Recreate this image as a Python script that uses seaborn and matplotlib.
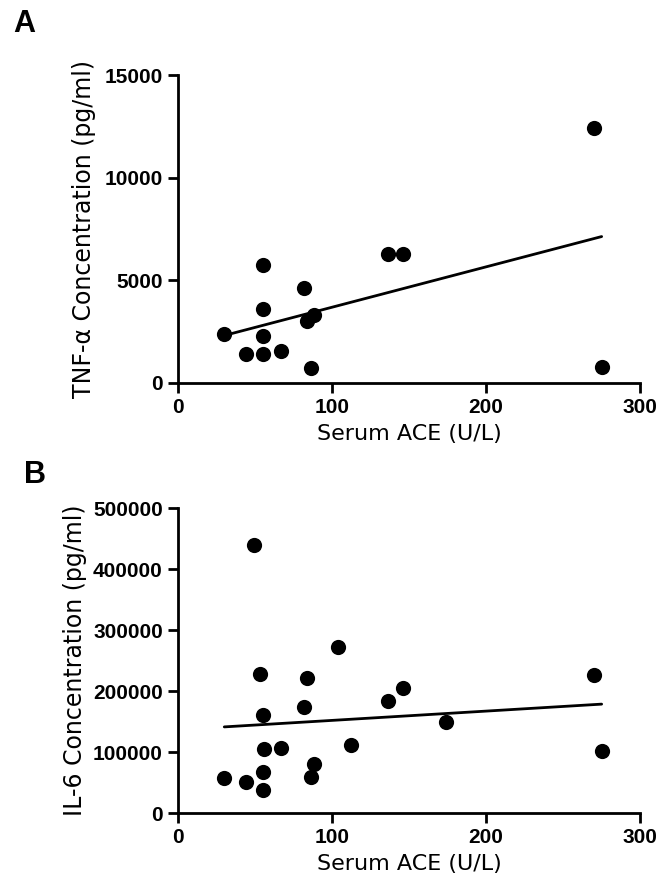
import numpy as np
import matplotlib
matplotlib.use("Agg")
import matplotlib.pyplot as plt
import seaborn as sns

# Panel A: serum ACE vs TNF-alpha
ace_a = [30, 44, 55, 55, 55, 55, 67, 82, 84, 88, 86, 136, 146, 270, 275]
tnf = [2400, 1400, 1400, 2300, 3600, 5750, 1550, 4650, 3000, 3300, 750, 6300, 6300, 12400, 800]

# Panel B: serum ACE vs IL-6
ace_b = [30, 44, 49, 53, 55, 56, 55, 55, 67, 82, 84, 88, 86, 104, 112, 136, 146, 174, 270, 275]
il6 = [58000, 51000, 440000, 228000, 161000, 105000, 67000, 38000, 107000, 174000,
       222000, 80000, 59000, 272000, 112000, 184000, 205000, 149000, 226000, 102000]

x_ticks = [0, 100, 200, 300]
a_ticks = [0, 5000, 10000, 15000]
b_ticks = [0, 100000, 200000, 300000, 400000, 500000]

sns.set_theme(style="ticks")
plt.rcParams['font.family'] = ['Liberation Sans', 'DejaVu Sans']
plt.rcParams['text.color'] = 'black'
plt.rcParams['axes.labelcolor'] = 'black'
plt.rcParams['xtick.labelcolor'] = 'black'
plt.rcParams['ytick.labelcolor'] = 'black'

fig = plt.figure(figsize=(6.62, 8.9), dpi=100)
ax_a = fig.add_axes([0.269, 0.5697, 0.698, 0.346])
ax_b = fig.add_axes([0.269, 0.0865, 0.698, 0.3427])

panels = [
    (ax_a, ace_a, tnf, a_ticks, "TNF-α Concentration (pg/ml)", "A", 0.036, 0.973, 6),
    (ax_b, ace_b, il6, b_ticks, "IL-6 Concentration (pg/ml)", "B", 0.053, 0.466, 4),
]

for ax, x, y, yt, ylab, letter, lx, ly, ypad in panels:
    sns.regplot(x=np.array(x), y=np.array(y), ax=ax, ci=None,
                scatter_kws=dict(s=120, color="black", linewidths=0, alpha=1),
                line_kws=dict(color="black", lw=2))
    ax.set_xlim(0, 300)
    ax.set_ylim(0, yt[-1])
    ax.set_xticks(x_ticks)
    ax.set_yticks(yt)
    ax.tick_params(direction="out", length=7, width=2, color="black",
                   labelsize=15, pad=4)
    for lab in ax.get_xticklabels() + ax.get_yticklabels():
        lab.set_fontweight("bold")
    for side in ["left", "bottom"]:
        ax.spines[side].set_linewidth(2)
        ax.spines[side].set_color("black")
    sns.despine(ax=ax)
    # axis titles look wider than Arial in the original, DejaVu is closer
    ax.set_xlabel("Serum ACE (U/L)", fontsize=16, labelpad=5, family="DejaVu Sans")
    ax.set_ylabel(ylab, fontsize=17, labelpad=ypad, family="DejaVu Sans")
    fig.text(lx, ly, letter, fontsize=22, fontweight="bold", ha="center", va="center")

fig.savefig("out.png", dpi=100)
